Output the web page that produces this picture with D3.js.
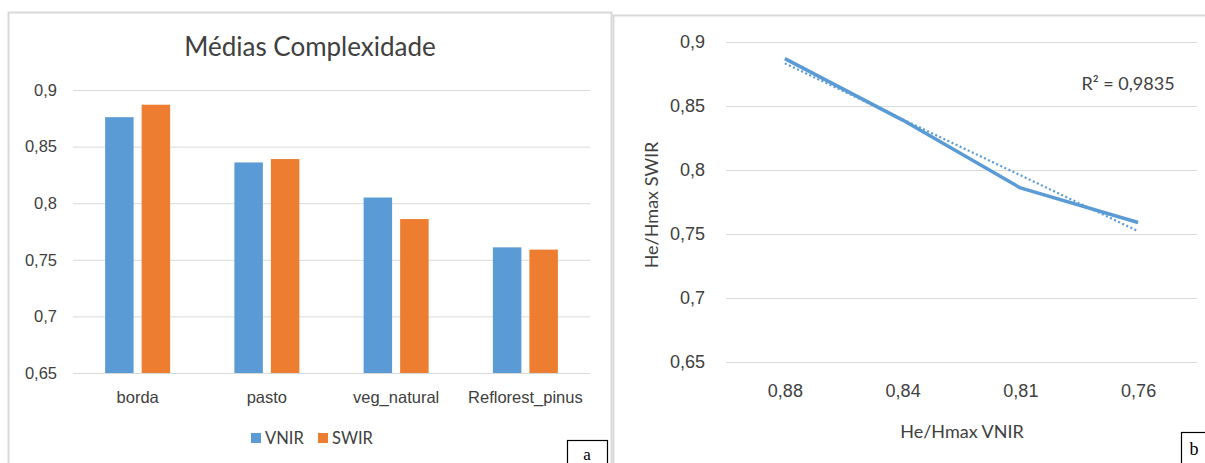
<!DOCTYPE html>
<html>
<head>
<meta charset="utf-8">
<script src="https://cdn.jsdelivr.net/npm/d3@7"></script>
<style>
  body { margin: 0; background: #fff; }
  svg { display: block; font-family: Lato, 'Open Sans', sans-serif; }
</style>
</head>
<body>
<div id="container"></div>
<script>
const w = 1205
const h = 463

// data
const categories = ['borda', 'pasto', 'veg_natural', 'Reflorest_pinus']
const series = ['VNIR', 'SWIR']
const vnir = [0.876, 0.836, 0.805, 0.761]
const swir = [0.887, 0.839, 0.786, 0.759]
const yTicks = [0.65, 0.7, 0.75, 0.8, 0.85, 0.9]
const xLabelsB = ['0,88', '0,84', '0,81', '0,76']
const r2Label = 'R² = 0,9835'

const blue = '#5B9BD5'
const orange = '#ED7D31'
const grid = '#D9D9D9'
const txt = '#404040'

const ptBR = d3.formatLocale({ decimal: ',', thousands: '.', grouping: [3], currency: ['', ''] })
const fmt = ptBR.format('~g')

const svg = d3.select('#container')
              .append('svg')
              .attr('width', w)
              .attr('height', h)

// panel frames
svg.append('rect')
   .attr('x', 8.5).attr('y', 12.5)
   .attr('width', 603).attr('height', 470)
   .attr('fill', 'none').attr('stroke', grid).attr('stroke-width', 2)
svg.append('rect')
   .attr('x', 613.5).attr('y', 15.5)
   .attr('width', 620).attr('height', 470)
   .attr('fill', 'none').attr('stroke', grid).attr('stroke-width', 2)

// ---------- chart a: bars ----------
const gA = svg.append('g')
const x0 = d3.scaleBand().domain(categories).range([73, 590])
const x1 = d3.scaleBand().domain(series).range([-32.5, 32.5]).paddingInner(0.22)
const yA = d3.scaleLinear().domain([0.65, 0.9]).range([373, 90])

const yAxisA = d3.axisLeft(yA).tickValues(yTicks).tickFormat(fmt).tickSize(-517).tickPadding(16)
gA.append('g')
  .attr('transform', 'translate(73, 0)')
  .call(yAxisA)
  .call(g => g.select('.domain').remove())
  .call(g => g.selectAll('line').attr('stroke', grid))
  .call(g => g.selectAll('text').attr('fill', txt).style('font-size', '16.5px'))

const xAxisA = d3.axisBottom(x0).tickSize(0).tickPadding(18)
gA.append('g')
  .attr('transform', 'translate(0, 373)')
  .call(xAxisA)
  .call(g => g.select('.domain').remove())
  .call(g => g.selectAll('text').attr('fill', txt).style('font-size', '16.5px'))

const rows = categories.map((c, i) => ({ cat: c, VNIR: vnir[i], SWIR: swir[i] }))
const colour = d3.scaleOrdinal().domain(series).range([blue, orange])

gA.selectAll('g.grp')
  .data(rows)
  .enter()
  .append('g')
  .attr('class', 'grp')
  .attr('transform', d => 'translate(' + (x0(d.cat) + x0.bandwidth() / 2) + ', 0)')
  .selectAll('rect')
  .data(d => series.map(s => ({ s: s, v: d[s] })))
  .enter()
  .append('rect')
  .attr('x', d => x1(d.s))
  .attr('width', x1.bandwidth())
  .attr('y', d => yA(d.v))
  .attr('height', d => yA(0.65) - yA(d.v))
  .attr('fill', d => colour(d.s))

gA.append('text')
  .attr('x', 310).attr('y', 56)
  .attr('text-anchor', 'middle')
  .attr('fill', txt)
  .style('font-size', '26px')
  .text('Médias Complexidade')

// legend
const legend = gA.append('g').attr('transform', 'translate(251, 438)')
const legItems = legend.selectAll('g')
  .data(series)
  .enter()
  .append('g')
  .attr('transform', (d, i) => 'translate(' + (i * 67) + ', 0)')
legItems.append('rect')
  .attr('x', 0).attr('y', -5).attr('width', 10).attr('height', 10)
  .attr('fill', d => colour(d))
legItems.append('text')
  .attr('x', 14).attr('y', 6)
  .attr('fill', txt)
  .style('font-size', '16.5px')
  .text(d => d)

// ---------- chart b: line ----------
const gB = svg.append('g')
const xB = d3.scalePoint().domain(xLabelsB).range([726, 1197]).padding(0.5)
const yB = d3.scaleLinear().domain([0.65, 0.9]).range([362, 42])

const yAxisB = d3.axisLeft(yB).tickValues(yTicks).tickFormat(fmt).tickSize(-471).tickPadding(21)
gB.append('g')
  .attr('transform', 'translate(726, 0)')
  .call(yAxisB)
  .call(g => g.select('.domain').remove())
  .call(g => g.selectAll('line').attr('stroke', grid))
  .call(g => g.selectAll('text').attr('fill', txt).style('font-size', '18px'))

const xAxisB = d3.axisBottom(xB).tickSize(0).tickPadding(22)
gB.append('g')
  .attr('transform', 'translate(0, 362)')
  .call(xAxisB)
  .call(g => g.select('.domain').remove())
  .call(g => g.selectAll('text').attr('fill', txt).style('font-size', '18px'))

const pts = xLabelsB.map((l, i) => ({ x: l, i: i + 1, y: swir[i] }))

// linear trend (least squares on point index)
const mx = d3.mean(pts, d => d.i)
const my = d3.mean(pts, d => d.y)
const slope = d3.sum(pts, d => (d.i - mx) * (d.y - my)) / d3.sum(pts, d => (d.i - mx) * (d.i - mx))
const trend = pts.map(d => ({ x: d.x, y: my + slope * (d.i - mx) }))

const line = d3.line().x(d => xB(d.x)).y(d => yB(d.y))

gB.append('path')
  .datum(trend)
  .attr('d', line)
  .attr('fill', 'none')
  .attr('stroke', blue)
  .attr('stroke-width', 2.2)
  .attr('stroke-dasharray', '2 2.5')

gB.append('path')
  .datum(pts)
  .attr('d', line)
  .attr('fill', 'none')
  .attr('stroke', blue)
  .attr('stroke-width', 3.5)
  .attr('stroke-linejoin', 'round')

gB.append('text')
  .attr('x', 1128).attr('y', 90)
  .attr('text-anchor', 'middle')
  .attr('fill', txt)
  .style('font-size', '18px')
  .text(r2Label)

gB.append('text')
  .attr('x', 962).attr('y', 438)
  .attr('text-anchor', 'middle')
  .attr('fill', txt)
  .style('font-size', '18px')
  .text('He/Hmax VNIR')

gB.append('text')
  .attr('transform', 'translate(658, 205) rotate(-90)')
  .attr('text-anchor', 'middle')
  .attr('fill', txt)
  .style('font-size', '18px')
  .text('He/Hmax SWIR')

// panel letters
svg.append('rect')
   .attr('x', 567.5).attr('y', 440.5).attr('width', 40).attr('height', 30)
   .attr('fill', '#fff').attr('stroke', '#000').attr('stroke-width', 1.2)
svg.append('text')
   .attr('x', 587).attr('y', 460)
   .attr('text-anchor', 'middle')
   .style('font-family', "'Liberation Serif', serif")
   .style('font-size', '17px')
   .text('a')
svg.append('rect')
   .attr('x', 1181.5).attr('y', 432.5).attr('width', 40).attr('height', 40)
   .attr('fill', '#fff').attr('stroke', '#000').attr('stroke-width', 1.2)
svg.append('text')
   .attr('x', 1194).attr('y', 455)
   .attr('text-anchor', 'middle')
   .style('font-family', "'Liberation Serif', serif")
   .style('font-size', '18px')
   .text('b')
</script>
</body>
</html>
